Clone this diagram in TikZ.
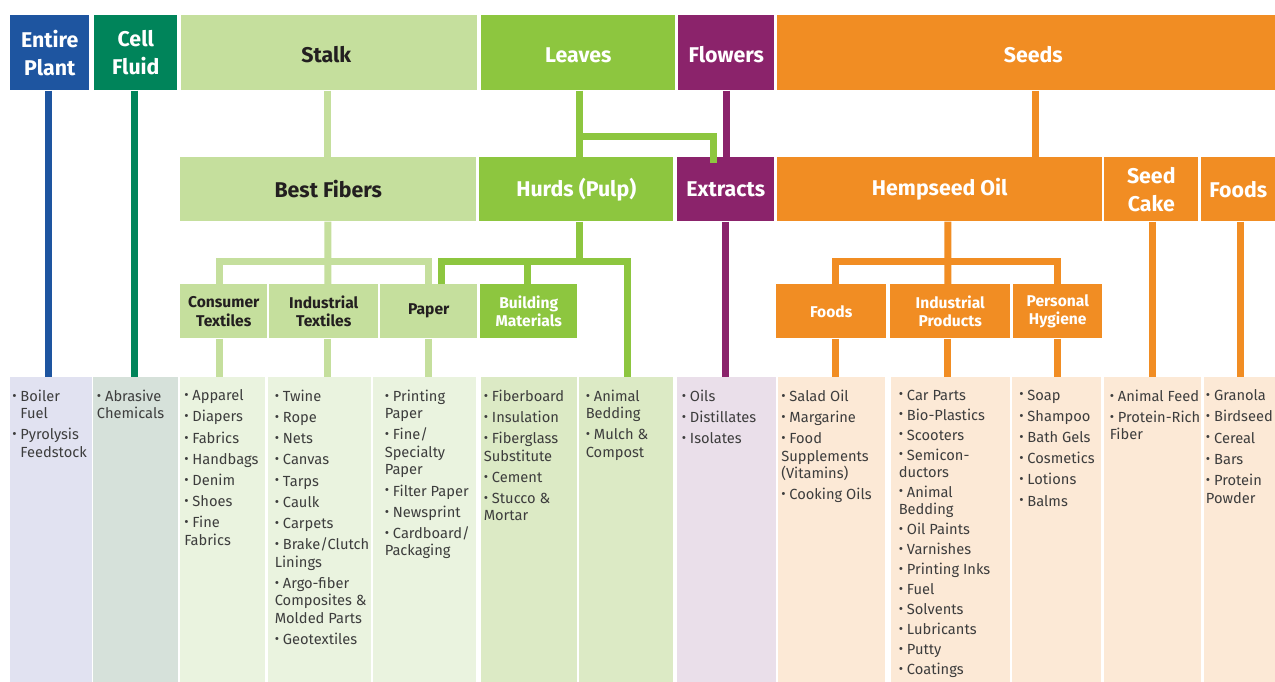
\documentclass[tikz,border=0pt]{standalone}
\usepackage{fontspec}
\setmainfont{Fira Sans}
\usetikzlibrary{calc}

\definecolor{plantblue}{HTML}{1E55A0}
\definecolor{fluidgreen}{HTML}{00845A}
\definecolor{stalkgreen}{HTML}{C5DF9D}
\definecolor{leafgreen}{HTML}{8DC63F}
\definecolor{flowerpurple}{HTML}{8B236B}
\definecolor{seedorange}{HTML}{F18D23}
\definecolor{plantpale}{HTML}{E1E2F1}
\definecolor{fluidpale}{HTML}{D6E1DA}
\definecolor{stalkpale}{HTML}{EAF3DF}
\definecolor{leafpale}{HTML}{DCEAC5}
\definecolor{flowerpale}{HTML}{EADFEA}
\definecolor{seedpale}{HTML}{FCE9D6}
\definecolor{darktext}{HTML}{231F20}
\definecolor{listtext}{HTML}{3D3D3D}

% bullet, hanging indent and gaps between list entries
\newcommand\itm{\raisebox{0.08em}{\scalebox{0.9}{•}}\ }
\newcommand\hang{\phantom{\itm}}
\newcommand\nx{\\[2.8pt]}
\newcommand\ny{\\[2.2pt]}

\tikzset{
  wh/.style 2 args={minimum width=#1*0.75pt, minimum height=#2*0.75pt},
  hdr/.style={anchor=north west, inner sep=0pt, align=center, text=white,
    font=\bfseries\fontsize{16}{20.8}\selectfont},
  low/.style={text height=15.5pt},
  sub/.style={anchor=north west, inner sep=0pt, align=center, text=white,
    font=\bfseries\fontsize{11.7}{14}\selectfont},
  panel/.style={anchor=north west, inner sep=0pt},
  items/.style={anchor=north west, inner sep=0pt, align=left, text=listtext,
    font=\fontsize{11}{13.1}\selectfont},
  conn/.style={line width=5.25pt}
}

\begin{document}
\begin{tikzpicture}[x=0.75pt, y=-0.75pt]
\useasboundingbox (0,0) rectangle (1275,682);

% Plant parts
\node[hdr, wh={79}{75}, fill=plantblue] (plant) at (10,15) {Entire\\Plant};
\node[hdr, wh={83}{75}, fill=fluidgreen] (fluid) at (94,15) {Cell\\Fluid};
\node[hdr, low, wh={296}{75}, fill=stalkgreen, text=darktext] (stalk) at (181,15) {Stalk\hspace*{4.5pt}};
\node[hdr, low, wh={194}{75}, fill=leafgreen] (leaves) at (481,15) {Leaves};
\node[hdr, low, wh={96}{75}, fill=flowerpurple] (flowers) at (678,15) {Flowers};
\node[hdr, low, wh={498}{75}, fill=seedorange] (seeds) at (777,15) {\hspace*{10.5pt}Seeds};

% Raw materials
\node[hdr, wh={296}{64}, fill=stalkgreen, text=darktext] (bfib) at (180,157) {Best Fibers};
\node[hdr, wh={194}{64}, fill=leafgreen] (hurds) at (479,157) {Hurds (Pulp)};
\node[hdr, wh={97}{64}, fill=flowerpurple] (extr) at (677,157) {Extracts};
\node[hdr, wh={325}{64}, fill=seedorange] (hoil) at (777,157) {Hempseed Oil};
\node[hdr, wh={94}{64}, fill=seedorange] (cake) at (1104,157) {Seed\\Cake};
\node[hdr, wh={74}{64}, fill=seedorange] (sfood) at (1201,157) {Foods};

% Product groups
\node[sub, wh={87}{54}, fill=stalkgreen, text=darktext] (ctex) at (180,284) {Consumer\\Textiles};
\node[sub, wh={109}{54}, fill=stalkgreen, text=darktext] (itex) at (269,284) {Industrial\\Textiles};
\node[sub, wh={97}{54}, fill=stalkgreen, text=darktext] (paper) at (380,284) {Paper};
\node[sub, wh={97}{54}, fill=leafgreen] (bmat) at (480,284) {Building\\Materials};
\node[sub, wh={110}{54}, fill=seedorange] (ofood) at (776,284) {Foods};
\node[sub, wh={120}{54}, fill=seedorange] (iprod) at (890,284) {Industrial\\Products};
\node[sub, wh={89}{54}, fill=seedorange] (phyg) at (1013,284) {Personal\\Hygiene};

% Product panels
\node[panel, wh={82}{305}, fill=plantpale] (l1) at (10,377) {};
\node[panel, wh={85}{305}, fill=fluidpale] (l2) at (93,377) {};
\node[panel, wh={85}{305}, fill=stalkpale] (l3) at (180,377) {};
\node[panel, wh={103}{305}, fill=stalkpale] (l4) at (268,377) {};
\node[panel, wh={103}{305}, fill=stalkpale] (l5) at (373,377) {};
\node[panel, wh={96}{305}, fill=leafpale] (l6) at (481,377) {};
\node[panel, wh={94}{305}, fill=leafpale] (l7) at (579,377) {};
\node[panel, wh={99}{305}, fill=flowerpale] (l8) at (677,377) {};
\node[panel, wh={107}{305}, fill=seedpale] (l9) at (778,377) {};
\node[panel, wh={119}{305}, fill=seedpale] (l10) at (891,377) {};
\node[panel, wh={89}{305}, fill=seedpale] (l11) at (1012,377) {};
\node[panel, wh={97}{305}, fill=seedpale] (l12) at (1104,377) {};
\node[panel, wh={71}{305}, fill=seedpale] (l13) at (1204,377) {};

% Product lists
\node[items] (t1) at (12,389.5) {\itm Boiler\\\hang Fuel\nx\itm Pyrolysis\\\hang Feedstock};
\node[items] (t2) at (96.7,389.5) {\itm Abrasive\\Chemicals};
\node[items] (t3) at (184,389.5) {\itm Apparel\nx\itm Diapers\nx\itm Fabrics\nx\itm Handbags\nx
  \itm Denim\nx\itm Shoes\nx\itm Fine\\Fabrics};
\node[items] (t4) at (274.5,389.5) {\itm Twine\nx\itm Rope\nx\itm Nets\nx\itm Canvas\nx\itm Tarps\nx
  \itm Caulk\nx\itm Carpets\nx\itm Brake/Clutch\\Linings\nx\itm Argo-fiber\\Composites \&\\
  Molded Parts\nx\itm Geotextiles};
\node[items] (t5) at (384.5,389.5) {\itm Printing\\Paper\nx\itm Fine/\\Specialty\\Paper\nx
  \itm Filter Paper\nx\itm Newsprint\nx\itm Cardboard/\\Packaging};
\node[items] (t6) at (483.5,389.5) {\itm Fiberboard\nx\itm Insulation\nx\itm Fiberglass\\Substitute\nx
  \itm Cement\nx\itm Stucco \&\\Mortar};
\node[items] (t7) at (585.5,389.5) {\itm Animal\\Bedding\nx\itm Mulch \&\\Compost};
\node[items] (t8) at (681.5,389.5) {\itm Oils\nx\itm Distillates\nx\itm Isolates};
\node[items] (t9) at (781,389.5) {\itm Salad Oil\nx\itm Margarine\nx\itm Food\\Supplements\\(Vitamins)\nx
  \itm Cooking Oils};
\node[items, font=\fontsize{11}{12.8}\selectfont] (t10) at (898.5,389.5) {\itm Car Parts\ny
  \itm Bio-Plastics\ny\itm Scooters\ny\itm Semicon-\\ductors\ny\itm Animal\\Bedding\ny
  \itm Oil Paints\ny\itm Varnishes\ny\itm Printing Inks\ny\itm Fuel\ny\itm Solvents\ny
  \itm Lubricants\ny\itm Putty\ny\itm Coatings};
\node[items] (t11) at (1019,389.5) {\itm Soap\nx\itm Shampoo\nx\itm Bath Gels\nx\itm Cosmetics\nx
  \itm Lotions\nx\itm Balms};
\node[items] (t12) at (1109.5,389.5) {\itm Animal Feed\nx\itm Protein-Rich\\Fiber};
\node[items] (t13) at (1205.7,389.5) {\itm Granola\nx\itm Birdseed\nx\itm Cereal\nx\itm Bars\nx
  \itm Protein\\Powder};

% Stems from the plant parts
\draw[conn, plantblue] ($(plant.south)+(-1.5,0)$) -- ($(l1.north)+(-3,0)$);
\draw[conn, fluidgreen] ($(fluid.south)+(-1,0)$) -- ($(l2.north)+(-1,0)$);
\draw[conn, stalkgreen] ($(stalk.south)+(-1.3,0)$) -- ($(bfib.north)+(-0.3,0)$);
\draw[conn, leafgreen] ($(leaves.south)+(1.5,0)$) -- ($(hurds.north)+(3.5,0)$);
\draw[conn, leafgreen] ($(leaves.south)+(1.5,46)$) -| ($(extr.north)+(-12.2,6)$);
\draw[conn, flowerpurple] (flowers.south) -- (flowers.south |- extr.north);
\draw[conn, seedorange] ($(seeds.south)+(9.3,0)$) -- ($(hoil.north)+(95.8,0)$);

% Best fibers tree
\draw[conn, stalkgreen] ($(bfib.south)+(-0.3,0)$) -- ($(itex.north)+(4.2,0)$);
\draw[conn, stalkgreen] ($(ctex.north)+(-3.8,0)$) -- ++(0,-23) -| (paper.north);

% Hurds tree
\draw[conn, leafgreen] ($(hurds.south)+(3.5,0)$) -- ($(hurds.south)+(3.5,40)$);
\draw[conn, leafgreen] ($(paper.north)+(13.2,0)$) -- ++(0,-23) -| ($(l7.north)+(1.5,0)$);
\draw[conn, leafgreen] ($(bmat.north)+(-1.2,0)$) -- ($(bmat.north)+(-1.2,-23)$);

% Hempseed oil tree
\draw[conn, seedorange] ($(hoil.south)+(8,0)$) -- ($(iprod.north)+(-2.3,0)$);
\draw[conn, seedorange] ($(ofood.north)+(4.7,0)$) -- ++(0,-23) -| (phyg.north);

% Stems down to the panels
\draw[conn, stalkgreen] ($(ctex.south)+(-3.8,0)$) -- ($(l3.north)+(-2.8,0)$);
\draw[conn, stalkgreen] ($(itex.south)+(4.2,0)$) -- ($(l4.north)+(8.2,0)$);
\draw[conn, stalkgreen] (paper.south) -- ($(l5.north)+(4,0)$);
\draw[conn, flowerpurple] (extr.south) -- (extr.south |- l8.north);
\draw[conn, seedorange] ($(ofood.south)+(4.7,0)$) -- ($(l9.north)+(4.2,0)$);
\draw[conn, seedorange] ($(iprod.south)+(-2.3,0)$) -- ($(l10.north)+(-2.8,0)$);
\draw[conn, seedorange] (phyg.south) -- ($(l11.north)+(1,0)$);
\draw[conn, seedorange] ($(cake.south)+(1.7,0)$) -- ($(l12.north)+(0.2,0)$);
\draw[conn, seedorange] ($(sfood.south)+(2.7,0)$) -- ($(l13.north)+(1.2,0)$);
\end{tikzpicture}
\end{document}
